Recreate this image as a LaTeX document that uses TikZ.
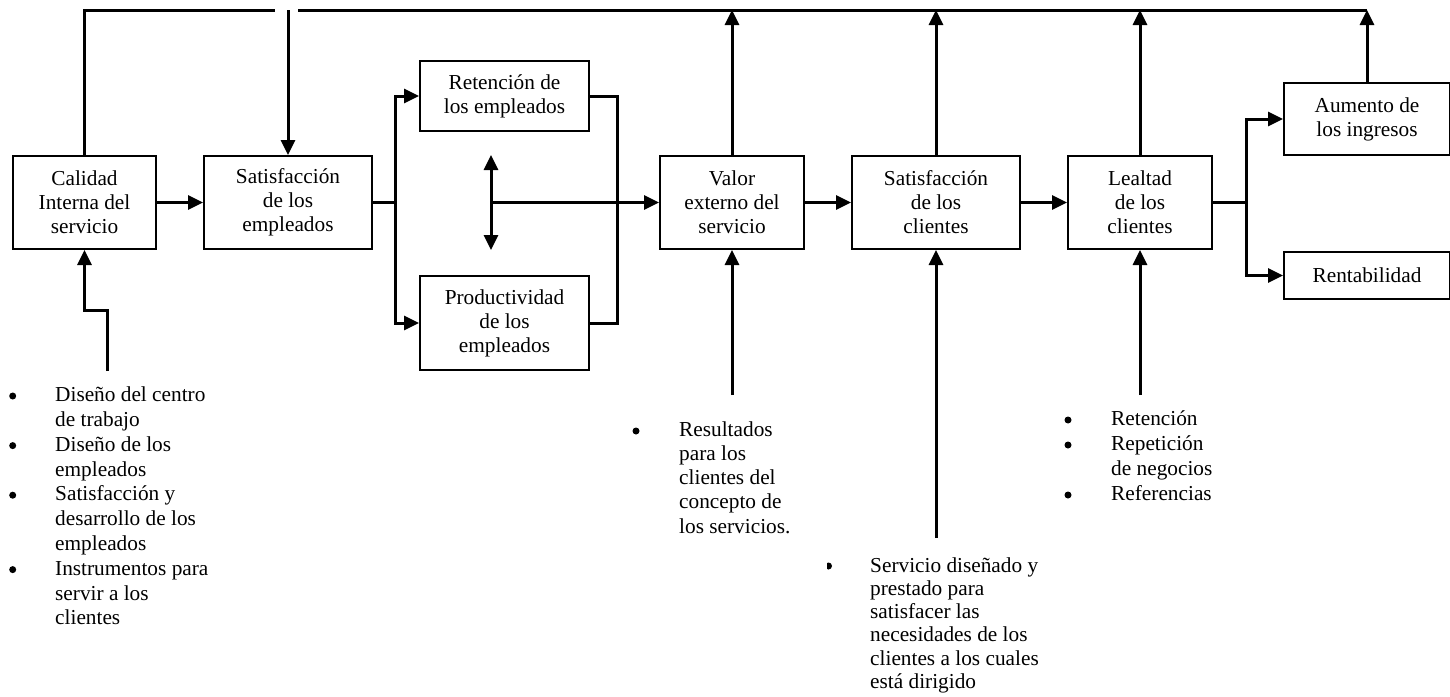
\documentclass[tikz,border=0pt]{standalone}
\usepackage{fontspec}
\setmainfont{Liberation Serif}
\usetikzlibrary{arrows.meta}
\newcommand\notelines[1]{\begin{tabular}[t]{@{}l@{}}#1\end{tabular}}
\begin{document}
\begin{tikzpicture}[x=1pt,y=-1pt,
  box/.style={draw, line width=2pt, anchor=north west, align=center, inner sep=0pt,
              font=\fontsize{21.3}{24}\selectfont},
  conn/.style={line width=3pt, line join=miter},
  arr/.style={conn, -{Triangle[length=15pt,width=14pt]}},
  dblarr/.style={conn, {Triangle[length=15pt,width=14pt]}-{Triangle[length=15pt,width=14pt]}},
  bnote/.style={inner sep=0pt, anchor=base west, font=\fontsize{21.3}{#1}\selectfont},
  bnote/.default=24.8
]
\useasboundingbox (0,0) rectangle (1450,696);

% main chain of boxes
\node[box, minimum width=143pt, minimum height=93pt] (cal) at (12,155) {Calidad\\Interna del\\servicio};
\node[box, minimum width=168pt, minimum height=93pt] (se) at (203,155) {Satisfacción\\de los\\empleados};
\node[box, minimum width=169pt, minimum height=70pt] (ret) at (419,60) {Retención de\\los empleados};
\node[box, minimum width=169pt, minimum height=94pt] (prod) at (419,275) {Productividad\\de los\\empleados};
\node[box, minimum width=144pt, minimum height=93pt] (val) at (659,155) {Valor\\externo del\\servicio};
\node[box, minimum width=168pt, minimum height=93pt] (sc) at (851,155) {Satisfacción\\de los\\clientes};
\node[box, minimum width=144pt, minimum height=93pt] (le) at (1067,155) {Lealtad\\de los\\clientes};
\node[box, minimum width=166pt, minimum height=72pt] (aum) at (1283,82) {Aumento de\\los ingresos};
\node[box, minimum width=166pt, minimum height=47pt] (rent) at (1283,251) {Rentabilidad};

% junction points (only x matters for the vertical bus lines)
\coordinate (topL) at (275,10);
\coordinate (topR) at (298,10);
\coordinate (jL) at (395,0);
\coordinate (jR) at (617,0);
\coordinate (dT) at (491,155);
\coordinate (dB) at (491,250);
\coordinate (dM) at (491,0);
\coordinate (jLe) at (1246,0);
\coordinate (calIn) at (107,371);
\coordinate (calBend) at (107,310);
\coordinate (valIn) at (731,395);
\coordinate (scIn) at (935,538);
\coordinate (leIn) at (1139,395);

% feedback line along the top
\draw[conn] (cal.north) -- (cal.north |- topL) -- (topL);
\draw[arr] (se.north |- topL) -- (se.north);
\draw[conn] (topR) -- (aum.north |- topR);
\draw[arr] (val.north) -- (val.north |- topR);
\draw[arr] (sc.north) -- (sc.north |- topR);
\draw[arr] (le.north) -- (le.north |- topR);
\draw[arr] (aum.north) -- (aum.north |- topR);

% main flow
\draw[arr] (cal.east) -- (se.west);
\draw[conn] (se.east) -- (se.east -| jL);
\draw[arr] (jL |- prod.west) |- (ret.west);
\draw[arr] (jL |- ret.west) |- (prod.west);
\draw[conn] (ret.east) -| (jR |- prod.east) -- (prod.east);
\draw[dblarr] (dT) -- (dB);
\draw[arr] (dM |- val.west) -- (val.west);
\draw[arr] (val.east) -- (sc.west);
\draw[arr] (sc.east) -- (le.west);
\draw[conn] (le.east) -- (le.east -| jLe);
\draw[arr] (jLe |- rent.west) |- (aum.west);
\draw[arr] (jLe |- aum.west) |- (rent.west);

% inputs from below
\draw[arr] (calIn) -- (calBend) -| (cal.south);
\draw[arr] (val.south |- valIn) -- (val.south);
\draw[arr] (sc.south |- scIn) -- (sc.south);
\draw[arr] (le.south |- leIn) -- (le.south);

% bullet lists
\node[bnote=24.8] (nCal) at (55,401.7) {\notelines{Diseño del centro\\de trabajo\\Diseño de los\\empleados\\Satisfacción y\\desarrollo de los\\empleados\\Instrumentos para\\servir a los\\clientes}};
\foreach \y in {396,445.6,495.2,569.6} \fill (12.7,\y) circle (3.5);

\node[bnote=24.3] (nVal) at (679,436) {\notelines{Resultados\\para los\\clientes del\\concepto de\\los servicios.}};
\fill (636,431) circle (3.5);

\node[bnote=23.3] (nSc) at (870,572) {\notelines{Servicio diseñado y\\prestado para\\satisfacer las\\necesidades de los\\clientes a los cuales\\está dirigido}};
\begin{scope}
  \clip (827,555) rectangle (840,577);
  \fill (828.5,566) circle (3.5);
\end{scope}

\node[bnote=25] (nLe) at (1111,425) {\notelines{Retención\\Repetición\\de negocios\\Referencias}};
\foreach \y in {420,445,495} \fill (1068,\y) circle (3.5);
\end{tikzpicture}
\end{document}
